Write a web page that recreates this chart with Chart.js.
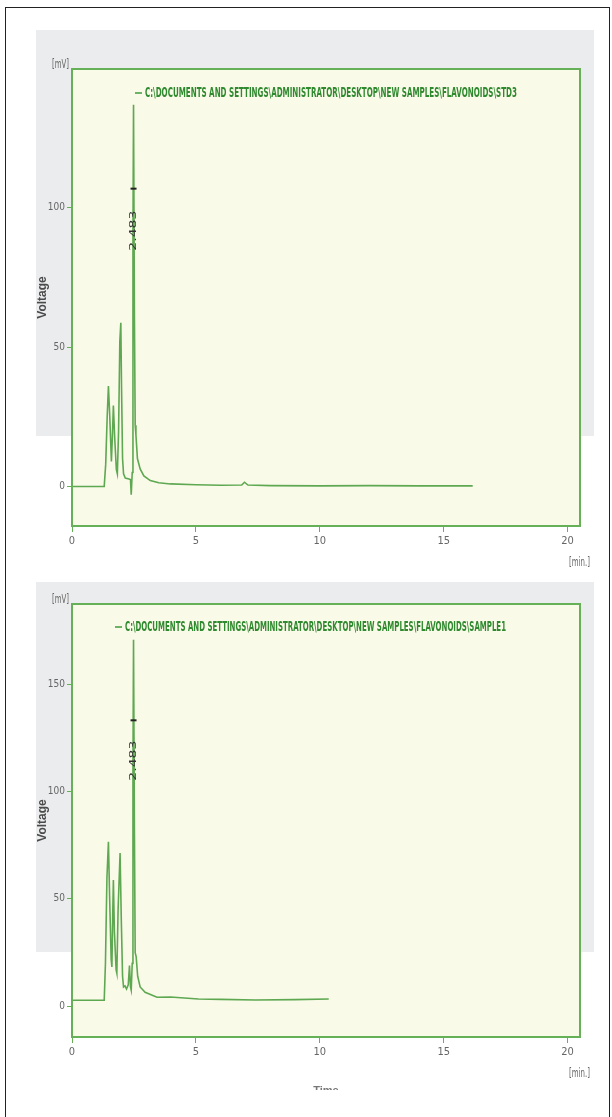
<!DOCTYPE html>
<html>
<head>
<meta charset="utf-8">
<title>Flavonoids chromatograms</title>
<script src="https://cdn.jsdelivr.net/npm/chart.js@4.4.1/dist/chart.umd.min.js"></script>
<style>
  html, body { margin: 0; padding: 0; background: #fff; }
  body { width: 612px; height: 1117px; position: relative; overflow: hidden; }
  .frame { position: absolute; left: 5px; top: 7px; width: 603px; height: 1130px; border: 1px solid #222; }
  .panel { position: absolute; left: 36px; width: 558px; background: #ebeced; }
  .box { position: absolute; left: 0; width: 612px; }
</style>
</head>
<body>
<div class="frame"></div>
<div class="panel" style="top:30px;height:406px"></div>
<div class="panel" style="top:582px;height:370px"></div>
<div class="box" style="top:0;height:580px"><canvas id="chartStd"></canvas></div>
<div class="box" style="top:560px;height:557px"><canvas id="chartSample"></canvas></div>

<script>
// standard run (STD3), time in min, signal in mV
const stdTimes = [0, 1.30, 1.36, 1.42, 1.47, 1.52, 1.59, 1.63, 1.67, 1.72, 1.79, 1.83, 1.88, 1.93, 1.97, 2.00, 2.04, 2.08,
    2.15, 2.30, 2.36, 2.39, 2.43, 2.46, 2.483, 2.52, 2.55, 2.58, 2.64, 2.75, 2.90, 3.16, 3.50, 3.97, 5.0, 6.0, 6.85, 6.96,
    7.10, 8.0, 10.0, 12.0, 14.0, 16.17];
const stdVolts = [0, 0, 8, 25, 36, 26, 9, 18, 29, 18, 6, 4.5, 20, 52, 58.7, 35, 10, 4.5,
    3, 2.7, 2.5, -3, 5, 90, 137, 60, 22, 18.5, 10, 6.3, 3.8, 2.1, 1.3, 0.9, 0.6, 0.4, 0.5, 1.5,
    0.5, 0.3, 0.2, 0.3, 0.2, 0.2];

// sample run (SAMPLE1)
const sampleTimes = [0, 1.30, 1.35, 1.41, 1.47, 1.52, 1.58, 1.61, 1.64, 1.67, 1.71, 1.78, 1.81, 1.86, 1.94, 1.99, 2.04, 2.08,
    2.14, 2.20, 2.27, 2.32, 2.36, 2.39, 2.43, 2.46, 2.483, 2.52, 2.55, 2.59, 2.65, 2.75, 2.95, 3.43, 3.97, 5.1, 6.0, 7.4,
    9.0, 10.36];
const sampleVolts = [2.8, 2.8, 20, 60, 76.6, 50, 22, 18.3, 40, 58.8, 35, 17, 15.4, 45, 71.4, 40, 14, 9,
    9.5, 8, 10, 19, 9, 7.5, 20, 110, 170.7, 80, 25, 23, 14, 9, 6.5, 4.2, 4.3, 3.4, 3.2, 2.9,
    3.1, 3.4];

const peakTimes = [2.483];
const peakLabels = ['2.483'];
const timeTicks = [0, 5, 10, 15, 20];
const stdVoltTicks = [0, 50, 100];
const sampleVoltTicks = [0, 50, 100, 150];

const stdName = 'C:\\DOCUMENTS AND SETTINGS\\ADMINISTRATOR\\DESKTOP\\NEW SAMPLES\\FLAVONOIDS\\STD3';
const sampleName = 'C:\\DOCUMENTS AND SETTINGS\\ADMINISTRATOR\\DESKTOP\\NEW SAMPLES\\FLAVONOIDS\\SAMPLE1';

const green = '#5ea852';
const frameGreen = '#66b058';
const narrow = '"Liberation Sans Narrow", "DejaVu Sans Condensed", "Liberation Sans", sans-serif';

// squeeze a string into a given width
function squeezedText(ctx, text, x, y, width) {
    const w = ctx.measureText(text).width;
    ctx.save();
    ctx.translate(x, y);
    ctx.scale(width / w, 1);
    ctx.fillText(text, 0, 0);
    ctx.restore();
}

const chromDecor = {
    id: 'chromDecor',
    beforeDatasetsDraw(chart) {
        const {ctx, chartArea: a} = chart;
        ctx.save();
        ctx.fillStyle = '#fafae8';
        ctx.fillRect(a.left, a.top, a.right - a.left, a.bottom - a.top);
        ctx.restore();
    },
    afterDatasetsDraw(chart, args, opts) {
        const {ctx, chartArea: a} = chart;
        const xs = chart.scales.x, ys = chart.scales.y;
        const ds = chart.data.datasets[0];
        ctx.save();

        // plot frame
        ctx.strokeStyle = frameGreen;
        ctx.lineWidth = 2;
        ctx.strokeRect(a.left, a.top, a.right - a.left, a.bottom - a.top);

        // legend
        ctx.strokeStyle = '#3d9a3d';
        ctx.lineWidth = 1.5;
        ctx.beginPath();
        ctx.moveTo(a.left + opts.legendX, a.top + opts.legendY);
        ctx.lineTo(a.left + opts.legendX + 7, a.top + opts.legendY);
        ctx.stroke();
        ctx.fillStyle = '#2f8a2f';
        ctx.font = 'bold 14px ' + narrow;
        ctx.textBaseline = 'middle';
        ctx.textAlign = 'left';
        squeezedText(ctx, ds.label, a.left + opts.legendX + 10, a.top + opts.legendY, opts.legendWidth);

        // units
        ctx.fillStyle = '#666';
        ctx.font = '13px ' + narrow;
        ctx.textAlign = 'left';
        squeezedText(ctx, '[mV]', a.left - 20, a.top - 4, 17);
        squeezedText(ctx, '[min.]', a.right - 11, a.bottom + 37, 21);

        // peak retention-time labels
        peakTimes.forEach((t, i) => {
            const pts = ds.data.filter(p => Math.abs(p.x - t) < 1e-6);
            if (!pts.length) return;
            const v = pts[0].y;
            const px = xs.getPixelForValue(t);
            const markY = ys.getPixelForValue(v * 0.78);
            const textY = ys.getPixelForValue(v * 0.67);
            ctx.strokeStyle = '#222';
            ctx.lineWidth = 2;
            ctx.beginPath();
            ctx.moveTo(px - 3, markY);
            ctx.lineTo(px + 3, markY);
            ctx.stroke();
            ctx.save();
            ctx.translate(px, textY);
            ctx.rotate(-Math.PI / 2);
            ctx.fillStyle = '#333';
            ctx.font = '9px "DejaVu Sans", sans-serif';
            ctx.textAlign = 'left';
            ctx.textBaseline = 'middle';
            squeezedText(ctx, peakLabels[i], -20, 0, 40);
            ctx.restore();
        });

        // x title, cut off by the picture edge in the source
        if (opts.timeTitle) {
            ctx.beginPath();
            ctx.rect(0, 0, chart.width, a.bottom + 53);
            ctx.clip();
            ctx.fillStyle = '#777';
            ctx.font = 'bold 11px "Liberation Sans", sans-serif';
            ctx.textAlign = 'center';
            ctx.textBaseline = 'top';
            ctx.fillText('Time', (a.left + a.right) / 2, a.bottom + 48);
        }
        ctx.restore();
    }
};

function makeChart(id, name, times, volts, yMin, yMax, yTicks, pad, deco) {
    const ctx = document.getElementById(id).getContext('2d');
    return new Chart(ctx, {
        type: 'line',
        data: {
            datasets: [{
                label: name,
                data: times.map((t, i) => ({x: t, y: volts[i]})),
                borderColor: green,
                borderWidth: 1.6,
                pointRadius: 0,
                tension: 0,
                fill: false
            }]
        },
        options: {
            responsive: true,
            maintainAspectRatio: false,
            animation: false,
            layout: {padding: pad},
            plugins: {
                legend: {display: false},
                tooltip: {enabled: false},
                chromDecor: deco
            },
            scales: {
                x: {
                    type: 'linear',
                    min: 0,
                    max: 20.5,
                    afterBuildTicks: s => { s.ticks = timeTicks.map(v => ({value: v})); },
                    afterFit: s => { s.height = 34; },
                    grid: {display: true, drawOnChartArea: false, drawTicks: true, tickLength: 6, color: frameGreen},
                    border: {display: false},
                    ticks: {padding: 3, maxRotation: 0, color: '#666', font: {family: narrow, size: 11}}
                },
                y: {
                    min: yMin,
                    max: yMax,
                    afterBuildTicks: s => { s.ticks = yTicks.map(v => ({value: v})); },
                    ticks: {padding: 2, color: '#666', font: {family: narrow, size: 10}},
                    afterFit: s => { s.width = 72; },
                    grid: {display: true, drawOnChartArea: false, drawTicks: true, tickLength: 5, color: frameGreen},
                    border: {display: false},
                    title: {
                        display: true,
                        text: 'Voltage',
                        color: '#4a4a4a',
                        font: {family: '"Liberation Sans", Arial, sans-serif', size: 12, weight: 'bold'},
                        padding: {top: 35, bottom: 0}
                    }
                }
            }
        },
        plugins: [chromDecor]
    });
}

makeChart('chartStd', stdName, stdTimes, stdVolts, -14.2, 149.8, stdVoltTicks,
    {top: 69, right: 32, bottom: 20, left: 0},
    {legendX: 63, legendY: 24, legendWidth: 372, timeTitle: false});

makeChart('chartSample', sampleName, sampleTimes, sampleVolts, -14.3, 187.3, sampleVoltTicks,
    {top: 44, right: 32, bottom: 46, left: 0},
    {legendX: 43, legendY: 23, legendWidth: 381, timeTitle: true});
</script>
</body>
</html>
